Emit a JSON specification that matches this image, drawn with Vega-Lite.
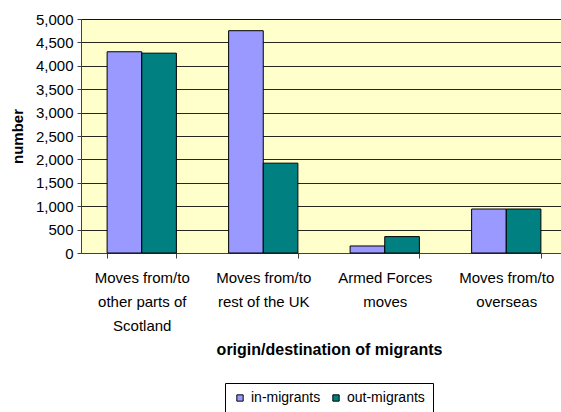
{
  "$schema": "https://vega.github.io/schema/vega-lite/v6.json",
  "width": 480,
  "height": 234,
  "autosize": {"type": "none"},
  "padding": {"left": 81, "top": 19, "right": 0, "bottom": 159},
  "background": "white",
  "config": {
    "view": {"fill": "#FFFFCC", "stroke": "#808080", "strokeWidth": 1},
    "font": "Liberation Sans"
  },
  "data": {
    "values": [
      {"category": "Moves from/to other parts of Scotland", "type": "in-migrants", "number": 4300},
      {"category": "Moves from/to other parts of Scotland", "type": "out-migrants", "number": 4270},
      {"category": "Moves from/to rest of the UK", "type": "in-migrants", "number": 4750},
      {"category": "Moves from/to rest of the UK", "type": "out-migrants", "number": 1920},
      {"category": "Armed Forces moves", "type": "in-migrants", "number": 150},
      {"category": "Armed Forces moves", "type": "out-migrants", "number": 350},
      {"category": "Moves from/to overseas", "type": "in-migrants", "number": 940},
      {"category": "Moves from/to overseas", "type": "out-migrants", "number": 940}
    ]
  },
  "mark": {"type": "bar", "stroke": "black", "strokeWidth": 1},
  "encoding": {
    "x": {
      "field": "category",
      "type": "nominal",
      "sort": null,
      "scale": {"paddingInner": 0.43, "paddingOuter": 0.215, "range": [0, 486]},
      "axis": {
        "title": "origin/destination of migrants",
        "titleFontSize": 16,
        "titleFontWeight": "bold",
        "titleColor": "black",
        "titlePadding": 8,
        "titleX": 248,
        "labelAngle": 0,
        "labelFontSize": 15,
        "labelColor": "black",
        "labelLineHeight": 24,
        "labelPadding": 12,
        "labelExpr": "datum.value == 'Moves from/to other parts of Scotland' ? ['Moves from/to', 'other parts of', 'Scotland'] : datum.value == 'Moves from/to rest of the UK' ? ['Moves from/to', 'rest of the UK'] : datum.value == 'Armed Forces moves' ? ['Armed Forces', 'moves'] : datum.value == 'Moves from/to overseas' ? ['Moves from/to', 'overseas'] : ''",
        "tickBand": "extent",
        "tickSize": 5,
        "tickColor": "#404040",
        "domainColor": "#404040",
        "grid": false
      }
    },
    "xOffset": {
      "field": "type",
      "sort": ["in-migrants", "out-migrants"],
      "scale": {"paddingInner": 0, "paddingOuter": 0}
    },
    "y": {
      "field": "number",
      "type": "quantitative",
      "scale": {"domain": [0, 5000], "nice": false},
      "axis": {
        "title": "number",
        "titleFontSize": 15,
        "titleFontWeight": "bold",
        "titleColor": "black",
        "titlePadding": 10,
        "values": [0, 500, 1000, 1500, 2000, 2500, 3000, 3500, 4000, 4500, 5000],
        "format": ",d",
        "labelFontSize": 15,
        "labelColor": "black",
        "labelPadding": 4,
        "tickSize": 4,
        "tickColor": "#404040",
        "domainColor": "#404040",
        "grid": true,
        "gridColor": "#000000",
        "gridOpacity": 0.85
      }
    },
    "color": {
      "field": "type",
      "type": "nominal",
      "scale": {"domain": ["in-migrants", "out-migrants"], "range": ["#9999FF", "#008080"]},
      "legend": {
        "title": null,
        "orient": "none",
        "legendX": 144,
        "legendY": 364,
        "direction": "horizontal",
        "strokeColor": "black",
        "fillColor": "white",
        "padding": 8,
        "symbolType": "square",
        "symbolSize": 40,
        "symbolStrokeColor": "black",
        "symbolStrokeWidth": 1,
        "symbolOpacity": 1,
        "labelFontSize": 14,
        "labelOffset": 4,
        "labelColor": "black",
        "columnPadding": 8
      }
    }
  }
}
